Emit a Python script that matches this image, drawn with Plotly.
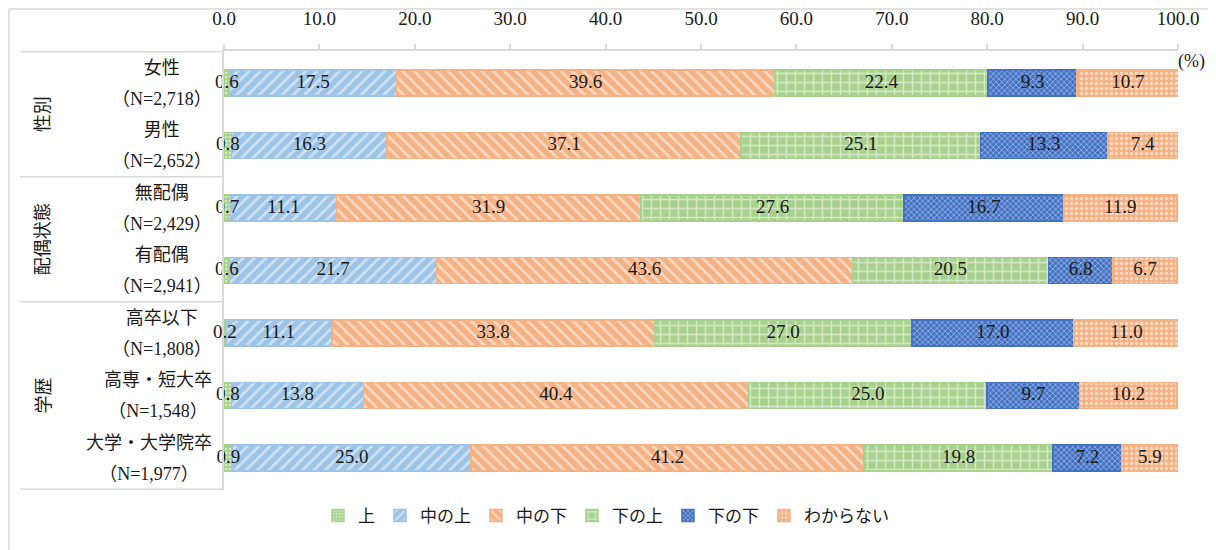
import plotly.graph_objects as go

categories = ["女性", "男性", "無配偶", "有配偶", "高卒以下", "高専・短大卒", "大学・大学院卒"]
sample_sizes = ["（N=2,718）", "（N=2,652）", "（N=2,429）", "（N=2,941）", "（N=1,808）", "（N=1,548）", "（N=1,977）"]
groups = ["性別", "配偶状態", "学歴"]
group_members = [["女性", "男性"], ["無配偶", "有配偶"], ["高卒以下", "高専・短大卒", "大学・大学院卒"]]

series_names = ["上", "中の上", "中の下", "下の上", "下の下", "わからない"]
v_jou = [0.6, 0.8, 0.7, 0.6, 0.2, 0.8, 0.9]
v_naka_jou = [17.5, 16.3, 11.1, 21.7, 11.1, 13.8, 25.0]
v_naka_ge = [39.6, 37.1, 31.9, 43.6, 33.8, 40.4, 41.2]
v_ge_jou = [22.4, 25.1, 27.6, 20.5, 27.0, 25.0, 19.8]
v_ge_ge = [9.3, 13.3, 16.7, 6.8, 17.0, 9.7, 7.2]
v_wakaranai = [10.7, 7.4, 11.9, 6.7, 11.0, 10.2, 5.9]
series_values = [v_jou, v_naka_jou, v_naka_ge, v_ge_jou, v_ge_ge, v_wakaranai]

x_ticks = [0, 10, 20, 30, 40, 50, 60, 70, 80, 90, 100]

colors = ["#A9D18E", "#9DC3E6", "#F4B183", "#A9D18E", "#4472C4", "#F4B183"]
patterns = [
    dict(shape=".", size=4, solidity=0.35),
    dict(shape="/", size=8, solidity=0.35),
    dict(shape="\\", size=8, solidity=0.35),
    dict(shape="+", size=9, solidity=0.3),
    dict(shape="x", size=4, solidity=0.35),
    dict(shape=".", size=5, solidity=0.4),
]

FONT = "Liberation Serif, 'Noto Sans CJK JP', serif"
TXT = "#1a1a1a"

# the page body has an 8px margin, so the figure is drawn 8px smaller and shifted
W, H = 1208, 542
L, T, R, B = 216, 43, 38, 60
PW, PH = W - L - R, H - T - B

fig = go.Figure()
for name, vals, col, pat in zip(series_names, series_values, colors, patterns):
    fig.add_trace(go.Bar(
        y=categories, x=vals, name=name, orientation="h",
        marker=dict(color=col, line=dict(color=col, width=1.5),
                    pattern=dict(fgcolor="white", fillmode="overlay", **pat)),
        hoverinfo="skip",
    ))

# data labels centred on each segment
cum = [0.0] * len(categories)
for vals in series_values:
    mids = [c + v / 2 for c, v in zip(cum, vals)]
    fig.add_trace(go.Scatter(
        x=mids, y=categories, mode="text", text=[f"{v:.1f}" for v in vals],
        textposition="middle center", textfont=dict(family=FONT, size=19, color=TXT),
        showlegend=False, hoverinfo="skip", cliponaxis=False))
    cum = [c + v for c, v in zip(cum, vals)]

annotations = []
for cat, n in zip(categories, sample_sizes):
    annotations.append(dict(
        xref="paper", yref="y", x=-10 / PW, y=cat, xanchor="right", yanchor="middle",
        text=f"<span style='font-size:18px'>{cat}</span><br><span style='font-size:18px'>{n}</span>",
        align="center", showarrow=False, font=dict(family=FONT, size=24, color=TXT)))

idx = 0
for g, members in zip(groups, group_members):
    mid = idx + (len(members) - 1) / 2
    annotations.append(dict(
        xref="paper", yref="y", x=-181 / PW, y=mid, xanchor="center", yanchor="middle",
        text=g, textangle=-90, showarrow=False,
        font=dict(family=FONT, size=18, color=TXT)))
    idx += len(members)

annotations.append(dict(xref="paper", yref="paper", x=1.0, y=1 - 11 / PH, xanchor="center",
                        yanchor="middle", text="(%)", xshift=13, showarrow=False,
                        font=dict(family=FONT, size=18, color=TXT)))

shapes = []
line_col = "#D9D9D9"
bounds = [-0.5]
c = 0
for members in group_members:
    c += len(members)
    bounds.append(c - 0.5)
for b in bounds:
    shapes.append(dict(type="line", xref="paper", yref="y", x0=-204 / PW, x1=0, y0=b, y1=b,
                       line=dict(color=line_col, width=1.5)))
# outer chart border (left and top)
shapes.append(dict(type="line", xref="paper", yref="paper",
                   x0=(1 - L) / PW, x1=(1 - L) / PW, y0=1 + (T - 1) / PH, y1=-B / PH,
                   line=dict(color=line_col, width=1.5)))
shapes.append(dict(type="line", xref="paper", yref="paper",
                   x0=(1 - L) / PW, x1=(W - L) / PW, y0=1 + (T - 1) / PH, y1=1 + (T - 1) / PH,
                   line=dict(color=line_col, width=1.5)))

fig.update_layout(
    width=W, height=H,
    margin=dict(l=L, r=R, t=T, b=B, autoexpand=False),
    barmode="stack", bargap=0.585,
    plot_bgcolor="white", paper_bgcolor="white",
    font=dict(family=FONT, size=18, color=TXT),
    showlegend=True,
    legend=dict(orientation="h", xref="container", yref="container", x=0.495, y=1 - 508 / H,
                xanchor="center", yanchor="middle", traceorder="normal",
                font=dict(family=FONT, size=17, color=TXT), itemwidth=30),
    annotations=annotations, shapes=shapes,
    xaxis=dict(side="top", range=[0, 100], tickvals=x_ticks,
               ticktext=[f"{t:.1f}" for t in x_ticks], showgrid=False, zeroline=False,
               showline=True, linecolor=line_col, linewidth=1.5, automargin=False,
               ticks="outside", ticklen=5, tickcolor=line_col, tickwidth=1.5,
               ticklabelstandoff=12,
               tickfont=dict(family=FONT, size=19, color=TXT)),
    yaxis=dict(categoryorder="array", categoryarray=categories, autorange="reversed",
               showticklabels=False, showgrid=False, zeroline=False, automargin=False,
               showline=True, linecolor=line_col, linewidth=1.5, ticks=""),
)

fig.write_html("out.html")
